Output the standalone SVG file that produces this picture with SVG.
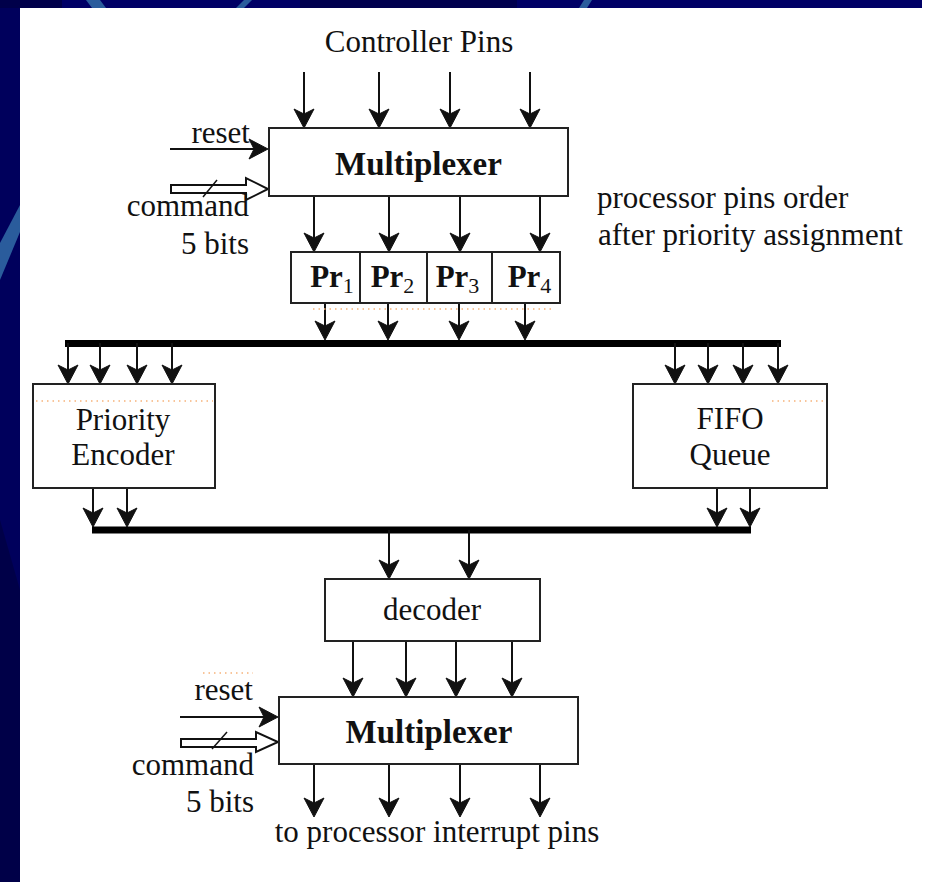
<svg xmlns="http://www.w3.org/2000/svg" width="926" height="882" viewBox="0 0 926 882">
<defs>
<style>
.t{font-family:"Liberation Serif","Times New Roman",serif;font-size:31px;fill:#111}
.b{font-family:"Liberation Serif","Times New Roman",serif;font-size:33px;font-weight:bold;fill:#111}
.pr{font-family:"Liberation Serif","Times New Roman",serif;font-size:31px;font-weight:bold;fill:#111}
.sub{font-size:22px;font-weight:normal}
.box{fill:#fff;stroke:#222;stroke-width:2}
.w{stroke:#111;stroke-width:2;fill:none;marker-end:url(#ah)}
.bus{stroke:#000;stroke-width:7}
.dot{stroke:#f6b27a;stroke-width:1.5;stroke-dasharray:1.5 4;fill:none}
</style>
<marker id="ah" viewBox="-17 -11 21 22" refX="0" refY="0" markerWidth="21" markerHeight="22" markerUnits="userSpaceOnUse" orient="auto">
<path d="M3,0 L-16,-10 L-11,0 L-16,10 Z" fill="#111" stroke="#111" stroke-width="1" stroke-linejoin="round"/>
</marker>
</defs>
<g id="background">
<rect x="0" y="0" width="926" height="882" fill="#fff"/>
<rect x="0" y="0" width="20" height="882" fill="#00005c"/>
<polygon points="0,520 20,590 20,882 0,882" fill="#000048"/>
<rect x="0" y="0" width="922" height="8" fill="#000066"/>
<rect x="0" y="0" width="62" height="8" fill="#00004a"/>
<rect x="300" y="0" width="217" height="8" fill="#00004e"/>
<polygon points="86,0 100,0 106,8 92,8" fill="#2a5c9c"/>
<polygon points="236,8 244,0 252,0 244,8" fill="#2a5c9c"/>
<polygon points="579,8 584,0 592,0 587,8" fill="#2a5c9c"/>
<polygon points="20,205 20,232 0,280 0,243" fill="#2a5c9c"/>
</g>
<g id="connectors">
<line class="w" x1="304" y1="72" x2="304" y2="125"/>
<line class="w" x1="379" y1="72" x2="379" y2="125"/>
<line class="w" x1="450" y1="72" x2="450" y2="125"/>
<line class="w" x1="530" y1="72" x2="530" y2="125"/>
<line class="w" x1="170" y1="149" x2="265" y2="149"/>
<path d="M171,185 L246,185 L246,178 L268,189 L246,200 L246,193 L171,193 Z" fill="#fff" stroke="#111" stroke-width="2"/>
<line x1="203" y1="197" x2="217" y2="180" stroke="#111" stroke-width="1.5"/>
<line class="w" x1="314" y1="196" x2="314" y2="249"/>
<line class="w" x1="389" y1="196" x2="389" y2="249"/>
<line class="w" x1="460" y1="196" x2="460" y2="249"/>
<line class="w" x1="540" y1="196" x2="540" y2="249"/>
<line class="w" x1="325" y1="303" x2="325" y2="337"/>
<line class="w" x1="388" y1="303" x2="388" y2="337"/>
<line class="w" x1="459" y1="303" x2="459" y2="337"/>
<line class="w" x1="525" y1="303" x2="525" y2="337"/>
<line class="bus" x1="65" y1="343.5" x2="781" y2="343.5"/>
<line class="w" x1="68" y1="343" x2="68" y2="381"/>
<line class="w" x1="100" y1="343" x2="100" y2="381"/>
<line class="w" x1="137" y1="343" x2="137" y2="381"/>
<line class="w" x1="172" y1="343" x2="172" y2="381"/>
<line class="w" x1="675" y1="343" x2="675" y2="381"/>
<line class="w" x1="708" y1="343" x2="708" y2="381"/>
<line class="w" x1="743" y1="343" x2="743" y2="381"/>
<line class="w" x1="778" y1="343" x2="778" y2="381"/>
<line class="w" x1="93" y1="488" x2="93" y2="524"/>
<line class="w" x1="127" y1="488" x2="127" y2="524"/>
<line class="w" x1="717" y1="488" x2="717" y2="524"/>
<line class="w" x1="750" y1="488" x2="750" y2="524"/>
<line class="bus" x1="92" y1="530" x2="751" y2="530"/>
<line class="w" x1="389" y1="530" x2="389" y2="576"/>
<line class="w" x1="469" y1="530" x2="469" y2="576"/>
<line class="w" x1="353" y1="641" x2="353" y2="694"/>
<line class="w" x1="406" y1="641" x2="406" y2="694"/>
<line class="w" x1="456" y1="641" x2="456" y2="694"/>
<line class="w" x1="512" y1="641" x2="512" y2="694"/>
<line class="w" x1="180" y1="717" x2="275" y2="717"/>
<path d="M181,739 L256,739 L256,732 L278,742 L256,752 L256,747 L181,747 Z" fill="#fff" stroke="#111" stroke-width="2"/>
<line x1="212" y1="749" x2="227" y2="732" stroke="#111" stroke-width="1.5"/>
<line class="w" x1="314" y1="764" x2="314" y2="814"/>
<line class="w" x1="389" y1="764" x2="389" y2="814"/>
<line class="w" x1="460" y1="764" x2="460" y2="814"/>
<line class="w" x1="540" y1="764" x2="540" y2="814"/>
</g>
<g id="labels">
<text class="t" x="419" y="52" text-anchor="middle">Controller Pins</text>
<text class="t" x="250" y="143" text-anchor="end">reset</text>
<text class="t" x="249" y="216" text-anchor="end">command</text>
<text class="t" x="249" y="254" text-anchor="end">5 bits</text>
<text class="t" x="597" y="208">processor pins order</text>
<text class="t" x="598" y="245">after priority assignment</text>
<text class="t" x="253" y="700" text-anchor="end">reset</text>
<text class="t" x="254" y="775" text-anchor="end">command</text>
<text class="t" x="254" y="812" text-anchor="end">5 bits</text>
<text class="t" x="437" y="842" text-anchor="middle">to processor interrupt pins</text>
<line class="dot" x1="313" y1="309" x2="552" y2="309"/>
<line class="dot" x1="203" y1="673" x2="253" y2="673"/>
</g>
<g id="mux1">
<rect class="box" x="269" y="128" width="299" height="68"/>
<text class="b" x="418.5" y="175" text-anchor="middle">Multiplexer</text>
</g>
<g id="pr-register">
<rect class="box" x="291" y="252" width="269" height="51"/>
<line x1="360" y1="252" x2="360" y2="303" stroke="#222" stroke-width="2"/>
<line x1="427" y1="252" x2="427" y2="303" stroke="#222" stroke-width="2"/>
<line x1="492" y1="252" x2="492" y2="303" stroke="#222" stroke-width="2"/>
<text class="pr" x="332" y="287" text-anchor="middle">Pr<tspan class="sub" dy="6">1</tspan></text>
<text class="pr" x="392.5" y="287" text-anchor="middle">Pr<tspan class="sub" dy="6">2</tspan></text>
<text class="pr" x="457.5" y="287" text-anchor="middle">Pr<tspan class="sub" dy="6">3</tspan></text>
<text class="pr" x="529.5" y="287" text-anchor="middle">Pr<tspan class="sub" dy="6">4</tspan></text>
</g>
<g id="priority-encoder">
<rect class="box" x="33" y="384" width="182" height="104"/>
<line class="dot" x1="36" y1="401" x2="213" y2="401"/>
<text class="t" x="123" y="430" text-anchor="middle">Priority</text>
<text class="t" x="123" y="465" text-anchor="middle">Encoder</text>
</g>
<g id="fifo-queue">
<rect class="box" x="633" y="384" width="194" height="104"/>
<line class="dot" x1="772" y1="401" x2="824" y2="401"/>
<text class="t" x="730" y="429" text-anchor="middle">FIFO</text>
<text class="t" x="730" y="465" text-anchor="middle">Queue</text>
</g>
<g id="decoder">
<rect class="box" x="325" y="579" width="215" height="62"/>
<text class="t" x="432" y="620" text-anchor="middle">decoder</text>
</g>
<g id="mux2">
<rect class="box" x="279" y="697" width="299" height="67"/>
<text class="b" x="429" y="743" text-anchor="middle">Multiplexer</text>
</g>
</svg>
